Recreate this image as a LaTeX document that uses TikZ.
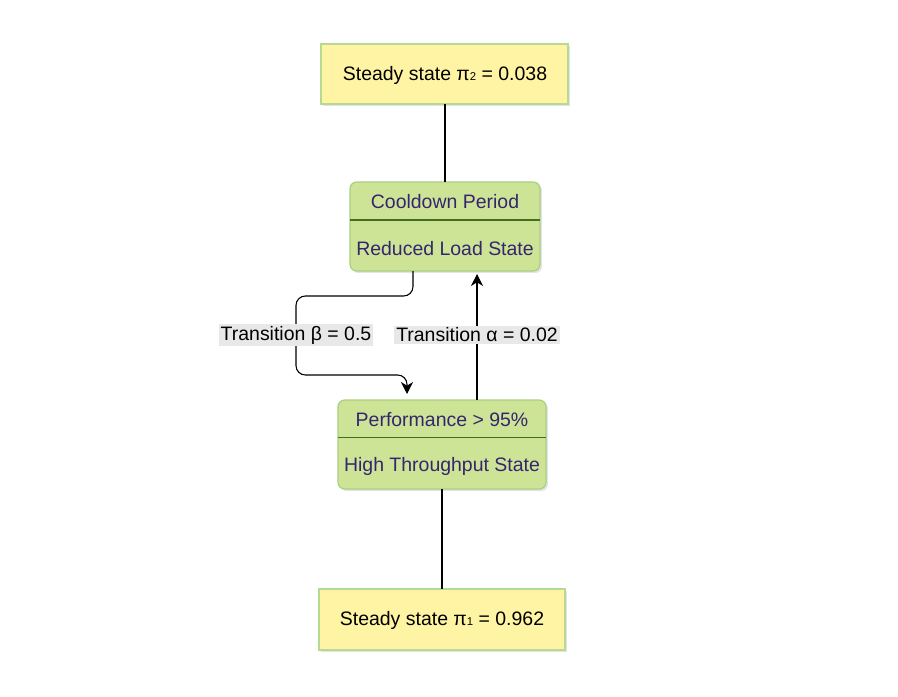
\documentclass[tikz,border=0pt]{standalone}
\usepackage{fontspec}
\setmainfont{Liberation Sans}
\usetikzlibrary{arrows.meta,shadows,calc}
\definecolor{yfill}{HTML}{FFF4A3}
\definecolor{yline}{HTML}{B5DB93}
\definecolor{gfill}{HTML}{CDE497}
\definecolor{gline}{HTML}{A9CF82}
\definecolor{gdiv}{HTML}{3E6E1E}
\definecolor{gtext}{HTML}{35256E}
\definecolor{lblbg}{HTML}{E8E8E8}
\newcommand{\subsm}[1]{{\fontsize{8.5}{8.5}\selectfont #1}}
\tikzset{
  x=0.75pt, y=-0.75pt,
  every node/.style={font=\fontsize{14.6}{17}\selectfont},
  ybox/.style={draw=yline, line width=0.9pt, fill=yfill, drop shadow={opacity=0.22, shadow xshift=1.5pt, shadow yshift=-1.5pt}},
  gbox/.style={draw=gline, line width=0.9pt, fill=gfill, rounded corners=5pt, drop shadow={opacity=0.22, shadow xshift=1.5pt, shadow yshift=-1.5pt}},
  gtxt/.style={text=gtext, inner sep=0pt},
  conn/.style={draw=black, line width=0.8pt},
  arr/.style={conn, -{Stealth[length=9pt,width=9pt,inset=2.8pt]}},
  lbl/.style={fill=lblbg, inner sep=1.5pt, text=black},
}
\begin{document}
\begin{tikzpicture}
\useasboundingbox (0,0) rectangle (898,696);
% boxes
\path[ybox] (321,44) rectangle (568,104);
\node[inner sep=0pt] (top) at (445,75) {Steady state π\subsm{2} = 0.038};
\coordinate (topb) at (445,104);

\path[gbox] (350,182) rectangle (540,271);
\draw[gdiv, line width=0.9pt] (350,220) -- (540,220);
\node[gtxt] (cdh) at (445,202) {Cooldown Period};
\node[gtxt] (cdb) at (445,248.5) {Reduced Load State};
\coordinate (cdt) at (445,182);

\path[gbox] (338,400) rectangle (546,489);
\draw[gdiv, line width=0.9pt] (338,437.5) -- (546,437.5);
\node[gtxt] (pfh) at (442,420) {Performance > 95\%};
\node[gtxt] (pfb) at (442,466.5) {High Throughput State};
\coordinate (pfbot) at (442,489);

\path[ybox] (319,589) rectangle (565,650);
\node[inner sep=0pt] (bot) at (442,620) {Steady state π\subsm{1} = 0.962};
\coordinate (botT) at (442,589);

% connectors
\draw[conn] (topb) -- (cdt);
\draw[conn] (pfbot) -- (botT);

\coordinate (b0) at (413,271);
\coordinate (b3) at (407,394);
\draw[arr, rounded corners=7pt] (b0) -- (413,296) -- (296,296) -- (296,375) -- (407,375) -- (b3);
\node[lbl] (lb) at (296,335) {Transition β = 0.5};

\coordinate (a0) at (477,400);
\coordinate (a1) at (477,274);
\draw[arr] (a0) -- (a1);
\node[lbl] (la) at (477,335) {Transition α = 0.02};
\end{tikzpicture}
\end{document}
